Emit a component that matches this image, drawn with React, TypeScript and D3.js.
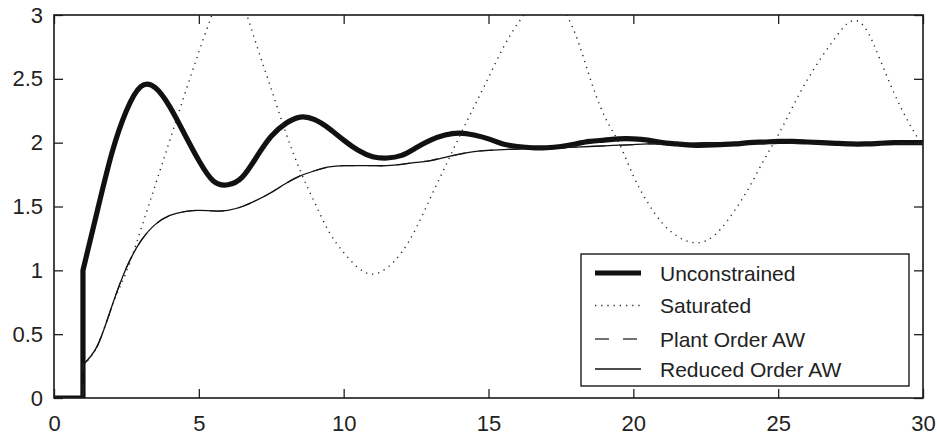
import { useEffect, useRef } from 'react';
import * as d3 from 'd3';

// time axis (s); t = 1 appears twice because of the step
const time = [
  0, 1, 1, 1.5, 2, 2.5, 3, 3.5, 4, 4.5, 5, 5.5, 6, 6.5, 7, 7.5, 8, 8.5, 9, 9.5, 10,
  10.5, 11, 11.5, 12, 12.5, 13, 13.5, 14, 14.5, 15, 15.5, 16, 16.5, 17, 17.5, 18, 18.5, 19, 19.5, 20,
  20.5, 21, 21.5, 22, 22.5, 23, 23.5, 24, 24.5, 25, 25.5, 26, 26.5, 27, 27.5, 28, 28.5, 29, 29.5, 30,
];

const unconstrained = [
  0, 0, 1.0, 1.47, 1.92, 2.25, 2.44, 2.43, 2.28, 2.07, 1.86, 1.7, 1.67, 1.73, 1.89, 2.05, 2.15, 2.2, 2.18, 2.11, 2.02,
  1.94, 1.89, 1.88, 1.9, 1.96, 2.02, 2.06, 2.075, 2.06, 2.03, 1.99, 1.97, 1.96, 1.96, 1.97, 1.99, 2.01, 2.02, 2.03, 2.03,
  2.02, 2.0, 1.99, 1.98, 1.98, 1.985, 1.99, 2.0, 2.005, 2.01, 2.01, 2.005, 2.0, 1.995, 1.99, 1.99, 1.995, 2.0, 2.0, 2.0,
];

const saturated = [
  0, 0, 0.26, 0.41, 0.72, 0.99, 1.32, 1.67, 2.02, 2.37, 2.71, 3.03, 3.25, 3.1, 2.76, 2.42, 2.08, 1.78, 1.53, 1.3, 1.14,
  1.02, 0.97, 1.02, 1.14, 1.33, 1.57, 1.81, 2.05, 2.28, 2.51, 2.74, 2.93, 3.07, 3.12, 3.06, 2.85, 2.51, 2.21, 2.0, 1.74,
  1.53, 1.37, 1.27, 1.22, 1.23, 1.32, 1.47, 1.65, 1.86, 2.06, 2.28, 2.49, 2.67, 2.83, 2.95, 2.9, 2.66, 2.39, 2.16, 1.97,
];

const plantOrderAW = [
  0, 0, 0.26, 0.41, 0.72, 1.02, 1.23, 1.36, 1.43, 1.46, 1.47, 1.465, 1.47, 1.5, 1.55, 1.61, 1.68, 1.74, 1.78, 1.81, 1.82,
  1.82, 1.82, 1.82, 1.83, 1.845, 1.86, 1.885, 1.91, 1.93, 1.94, 1.945, 1.95, 1.953, 1.956, 1.96, 1.965, 1.97, 1.975, 1.98, 1.985,
  1.99, 1.99, 1.995, 1.995, 2.0, 2.0, 2.0, 2.0, 2.0, 2.0, 2.0, 2.0, 2.0, 2.0, 2.0, 2.0, 2.0, 2.0, 2.0, 2.0,
];

const reducedOrderAW = [
  0, 0, 0.26, 0.41, 0.72, 1.02, 1.23, 1.36, 1.43, 1.46, 1.47, 1.465, 1.47, 1.5, 1.55, 1.61, 1.68, 1.74, 1.78, 1.81, 1.82,
  1.82, 1.82, 1.82, 1.83, 1.845, 1.86, 1.885, 1.91, 1.93, 1.94, 1.945, 1.95, 1.953, 1.956, 1.96, 1.965, 1.97, 1.975, 1.98, 1.985,
  1.99, 1.99, 1.995, 1.995, 2.0, 2.0, 2.0, 2.0, 2.0, 2.0, 2.0, 2.0, 2.0, 2.0, 2.0, 2.0, 2.0, 2.0, 2.0, 2.0,
];

const xTicks = [0, 5, 10, 15, 20, 25, 30];
const yTicks = [0, 0.5, 1, 1.5, 2, 2.5, 3];

const SERIES = [
  { name: 'Unconstrained', values: unconstrained, width: 5.2, dash: null, color: '#111' },
  { name: 'Saturated', values: saturated, width: 1.4, dash: '1.2,5', color: '#222' },
  { name: 'Plant Order AW', values: plantOrderAW, width: 1.3, dash: '14,14', color: '#444' },
  { name: 'Reduced Order AW', values: reducedOrderAW, width: 1.3, dash: null, color: '#111' },
];

const FONT = '"Liberation Sans", Arial, Helvetica, sans-serif';

export default function App() {
  const svgRef = useRef<SVGSVGElement | null>(null);

  useEffect(() => {
    const W = 937, H = 437;
    const M = { top: 15, right: 14, bottom: 39, left: 54 };
    const x0 = M.left, x1 = W - M.right, y0 = H - M.bottom, y1 = M.top;

    const svg = d3.select(svgRef.current);
    svg.selectAll('*').remove();
    svg.attr('width', W).attr('height', H);

    const xScale = d3.scaleLinear().domain([0, 30]).range([x0, x1]);
    const yScale = d3.scaleLinear().domain([0, 3]).range([y0, y1]);

    svg.append('defs').append('clipPath').attr('id', 'plot-clip')
      .append('rect').attr('x', x0).attr('y', y1).attr('width', x1 - x0).attr('height', y0 - y1);

    // split at repeated t (the step) -> straight jump, smooth elsewhere
    const pathFor = (values: number[]) => {
      const pts = time.map((t, i) => [xScale(t), yScale(values[i])] as [number, number]);
      const segs: [number, number][][] = [[pts[0]]];
      for (let i = 1; i < pts.length; i++) {
        if (time[i] === time[i - 1]) segs.push([pts[i]]);
        else segs[segs.length - 1].push(pts[i]);
      }
      const smooth = d3.line().curve(d3.curveNatural);
      return segs.map((s, i) => {
        const d = s.length > 2 ? smooth(s)! : d3.line()(s)!;
        return i === 0 ? d : 'L' + d.slice(1);
      }).join('');
    };

    const lines = svg.append('g').attr('clip-path', 'url(#plot-clip)');
    SERIES.forEach(s => {
      lines.append('path')
        .attr('d', pathFor(s.values))
        .attr('fill', 'none')
        .attr('stroke', s.color)
        .attr('stroke-width', s.width)
        .attr('stroke-dasharray', s.dash)
        .attr('stroke-linejoin', 'round');
    });

    const styleAxis = (ax: any) => {
      ax.select('.domain').remove();
      ax.selectAll('.tick line').attr('stroke', '#222').attr('stroke-width', 1.3);
      ax.selectAll('.tick text').attr('fill', '#222').attr('font-size', 22).attr('font-family', FONT);
    };

    svg.append('g').attr('transform', `translate(0,${y0})`)
      .call(d3.axisBottom(xScale).tickValues(xTicks).tickSizeInner(-9).tickSizeOuter(0).tickPadding(17).tickFormat(d3.format('d')))
      .call(styleAxis);
    svg.append('g').attr('transform', `translate(0,${y1})`)
      .call(d3.axisTop(xScale).tickValues(xTicks).tickSizeInner(-9).tickSizeOuter(0).tickFormat(() => ''))
      .call(styleAxis);
    svg.append('g').attr('transform', `translate(${x0},0)`)
      .call(d3.axisLeft(yScale).tickValues(yTicks).tickSizeInner(-9).tickSizeOuter(0).tickPadding(11).tickFormat(d3.format('~g')))
      .call(styleAxis);
    svg.append('g').attr('transform', `translate(${x1},0)`)
      .call(d3.axisRight(yScale).tickValues(yTicks).tickSizeInner(-9).tickSizeOuter(0).tickFormat(() => ''))
      .call(styleAxis);

    // frame
    svg.append('rect')
      .attr('x', x0).attr('y', y1).attr('width', x1 - x0).attr('height', y0 - y1)
      .attr('fill', 'none').attr('stroke', '#1a1a1a').attr('stroke-width', 1.6);

    // legend
    const lg = { x: 581, y: 254, w: 328, h: 132 };
    const leg = svg.append('g');
    leg.append('rect')
      .attr('x', lg.x).attr('y', lg.y).attr('width', lg.w).attr('height', lg.h)
      .attr('fill', 'white').attr('stroke', '#1a1a1a').attr('stroke-width', 1.4);
    const rowY = [273, 305.5, 339, 369];
    SERIES.forEach((s, i) => {
      leg.append('line')
        .attr('x1', lg.x + 14).attr('x2', lg.x + 60)
        .attr('y1', rowY[i]).attr('y2', rowY[i])
        .attr('stroke', s.color).attr('stroke-width', s.width)
        .attr('stroke-dasharray', s.dash);
      leg.append('text')
        .attr('x', lg.x + 79).attr('y', rowY[i]).attr('dy', '0.36em')
        .attr('font-size', 21).attr('font-family', FONT).attr('fill', '#222')
        .text(s.name);
    });
  }, []);

  return (
    <svg ref={svgRef} style={{ position: 'absolute', left: 0, top: 0, display: 'block', background: 'white' }} />
  );
}
